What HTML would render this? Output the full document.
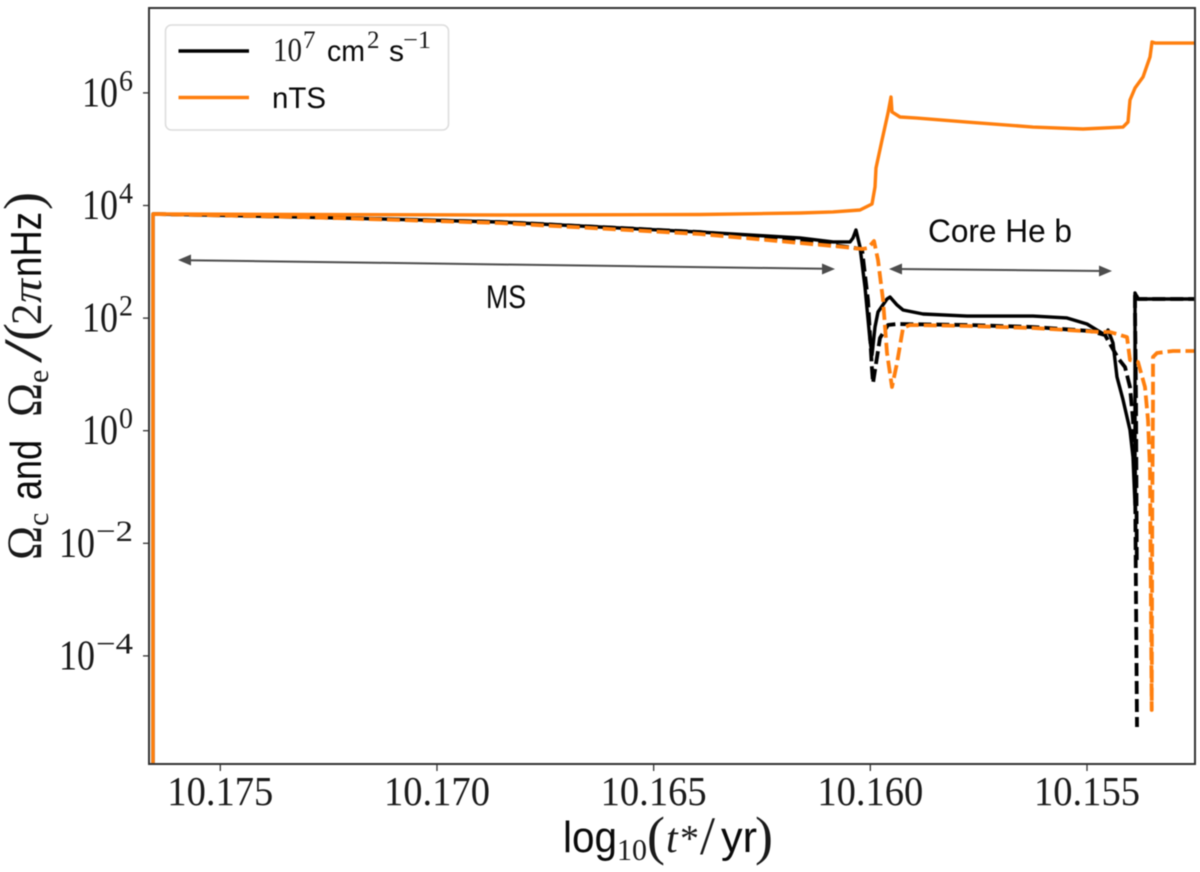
<!DOCTYPE html>
<html lang="en">
<head>
<meta charset="utf-8">
<title>Core and envelope rotation chart</title>
<style>
html,body{margin:0;padding:0;background:#fff;width:1200px;height:872px;overflow:hidden}
svg{display:block;filter:blur(0.45px)}
.serif{font-family:"Liberation Serif",serif;fill:#1a1a1a}
.sans{font-family:"Liberation Sans",sans-serif;fill:#0a0a0a}
</style>
</head>
<body>
<svg id="chart" width="1200" height="872" viewBox="0 0 1200 872" xmlns="http://www.w3.org/2000/svg">
  <defs><clipPath id="plot-clip"><rect x="150" y="9" width="1044" height="754"/></clipPath></defs>
  <rect x="0" y="0" width="1200" height="872" fill="#fff"/>
  <g id="series" clip-path="url(#plot-clip)" fill="none" stroke-linejoin="round"></g>
  <rect x="149" y="8" width="1046" height="756" fill="none" stroke="#333" stroke-width="2"/>
  <g id="axes"></g>

  <g>
    <line x1="186" y1="260.2" x2="825" y2="268.8" stroke="#4d4d4d" stroke-width="2"/>
    <polygon points="178,260 191,254.5 191,265.5" fill="#4d4d4d"/>
    <polygon points="835,269 822,263.5 822,274.5" fill="#4d4d4d"/>
  </g>
  <text class="sans" x="486" y="308" font-size="32" textLength="40" lengthAdjust="spacingAndGlyphs">MS</text>
  <g>
    <line x1="897" y1="269" x2="1103" y2="271" stroke="#4d4d4d" stroke-width="2"/>
    <polygon points="889,269 902,263.5 902,274.5" fill="#4d4d4d"/>
    <polygon points="1112,271 1099,265.5 1099,276.5" fill="#4d4d4d"/>
  </g>
  <text class="sans" x="928" y="242" font-size="32" textLength="144" lengthAdjust="spacingAndGlyphs">Core He b</text>

  <g>
    <rect x="165.5" y="25" width="283" height="105" rx="6" fill="#fff" stroke="#dcdcdc" stroke-width="1.5"/>
    <line x1="178.5" y1="51" x2="249" y2="51" stroke="#000" stroke-width="3.5"/>
    <line x1="178.5" y1="97.5" x2="249" y2="97.5" stroke="#ff7f0e" stroke-width="3.5"/>
    <g>
      <text class="serif" x="273" y="61" font-size="34" textLength="29" lengthAdjust="spacingAndGlyphs">10</text>
      <text class="serif" x="303" y="48" font-size="25">7</text>
      <text class="sans" x="327" y="61" font-size="30" textLength="38" lengthAdjust="spacingAndGlyphs">cm</text>
      <text class="serif" x="367" y="48" font-size="25">2</text>
      <text class="sans" x="389" y="61" font-size="30">s</text>
      <text class="serif" x="403" y="48" font-size="25" textLength="28" lengthAdjust="spacingAndGlyphs">−1</text>
    </g>
    <text class="sans" x="272" y="108" font-size="30" textLength="54" lengthAdjust="spacingAndGlyphs">nTS</text>
  </g>

  <g>
    <text class="sans" x="563" y="852" font-size="44" textLength="54" lengthAdjust="spacingAndGlyphs">log</text>
    <text class="serif" x="617" y="860" font-size="31" textLength="30" lengthAdjust="spacingAndGlyphs">10</text>
    <text class="serif" x="647" y="854" font-size="54">(</text>
    <text class="serif" x="666" y="852" font-size="42" font-style="italic">t</text>
    <text class="serif" x="680" y="851" font-size="38">*</text>
    <text class="serif" x="700" y="854" font-size="54">/</text>
    <text class="sans" x="721" y="852" font-size="44" textLength="36" lengthAdjust="spacingAndGlyphs">yr</text>
    <text class="serif" x="755" y="854" font-size="54">)</text>
  </g>

  <g transform="translate(41,560) rotate(-90)">
    <text class="serif" x="0" y="0" font-size="50" textLength="34" lengthAdjust="spacingAndGlyphs">Ω</text>
    <text class="serif" x="34" y="7" font-size="30">c</text>
    <text class="sans" x="60" y="0" font-size="44" textLength="60" lengthAdjust="spacingAndGlyphs">and</text>
    <text class="serif" x="143" y="0" font-size="50" textLength="34" lengthAdjust="spacingAndGlyphs">Ω</text>
    <text class="serif" x="177" y="7" font-size="30">e</text>
    <text class="serif" x="197" y="0" font-size="54" textLength="24" lengthAdjust="spacingAndGlyphs">/</text>
    <text class="serif" x="219" y="0" font-size="54">(</text>
    <text class="serif" x="235" y="0" font-size="43">2</text>
    <text class="serif" x="257" y="0" font-size="42" font-style="italic" textLength="24" lengthAdjust="spacingAndGlyphs">π</text>
    <text class="sans" x="283" y="0" font-size="44" textLength="65" lengthAdjust="spacingAndGlyphs">nHz</text>
    <text class="serif" x="350" y="0" font-size="54">)</text>
  </g>
</svg>
<script>
// ---- chart data ----
const xTickValues = [10.175, 10.170, 10.165, 10.160, 10.155];
const xTickLabels = ["10.175", "10.170", "10.165", "10.160", "10.155"];
const yTickExponents = [6, 4, 2, 0, -2, -4];

// time and log10(frequency) per series; null marks a break in the line
const timeDiffusionCore = [10.176553,10.176553,10.173161,10.168546,10.16393,10.161623,10.160861,10.160469,10.1604,10.160331,10.160238,10.160123,10.160008,10.159961,10.159892,10.159823,10.159615,10.159546,10.159384,10.159246,10.158784,10.157769,10.156246,10.155462,10.155,10.154585,10.154515,10.1544,10.154308,10.154169,10.154008,10.153939,10.153892,10.153892,10.153823,10.152508];
const logDiffusionCore = [-7,3.849,3.796,3.707,3.529,3.423,3.352,3.352,3.423,3.565,3.263,2.552,1.611,1.345,1.842,2.108,2.339,2.375,2.233,2.144,2.073,2.037,2.037,2.002,1.895,1.7,1.789,1.558,0.954,0.55,0.012,-0.467,-1.32,2.446,2.339,2.339];

const timeDiffusionEnvelope = [10.176553,10.173161,10.168546,10.16393,10.161623,10.160861,10.160192,10.160123,10.160054,10.159961,10.159938,10.159777,10.159592,10.159384,10.157769,10.156246,10.154931,10.154585,10.154285,10.154123,10.154008,10.153939,10.153892,10.153846,null,10.153851,10.153869,10.153892,10.153892,10.153823,10.152508];
const logDiffusionEnvelope = [3.849,3.796,3.707,3.529,3.369,3.298,3.227,2.766,2.322,1.08,0.847,1.647,1.878,1.895,1.878,1.842,1.771,1.7,1.291,1.131,0.776,0.19,-0.698,-5.263,null,-2.297,0.55,2.144,2.446,2.339,2.339];

const timeNtsCore = [10.176553,10.176553,10.176391,10.173161,10.168546,10.16393,10.161623,10.160861,10.160238,10.159961,10.159892,10.159869,10.15973,10.159592,10.159523,10.1595,10.159315,10.158923,10.157769,10.156246,10.155092,10.154169,10.154054,10.154008,10.153892,10.153708,10.153546,10.1535,10.153431,10.152508];
const logNtsCore = [-7,3.849,3.849,3.84,3.831,3.84,3.867,3.885,3.92,4.027,4.329,4.666,5.163,5.643,5.927,5.661,5.572,5.554,5.483,5.394,5.359,5.394,5.483,5.874,6.087,6.282,6.638,6.904,6.886,6.886];

const timeNtsEnvelope = [10.176553,10.173161,10.168546,10.16393,10.161623,10.160861,10.160192,10.160054,10.159915,10.159823,10.159707,10.159615,10.1595,10.159384,10.159246,10.159085,10.157769,10.156246,10.1547,10.154469,10.154077,10.154008,10.153823,10.153662,10.153592,10.153546,10.153507,10.153493,10.153477,10.153477,10.153385,10.153016,10.152508];
const logNtsEnvelope = [3.849,3.796,3.689,3.494,3.334,3.281,3.227,3.245,3.369,3.032,2.322,1.38,0.776,1.202,1.824,1.878,1.86,1.824,1.753,1.753,1.664,1.256,1.22,0.776,0.19,-0.698,-4.961,-1.231,0.492,1.309,1.38,1.416,1.416];

// ---- axis functions ----
const NS = "http://www.w3.org/2000/svg";
function xScale(t) { return 220.3 + (10.175 - t) * 43335; }
function yScale(logv) { return 205.5 - (logv - 4) * 56.3; }

function pathFrom(times, logs) {
  let d = "";
  let pen = "M";
  for (let i = 0; i < times.length; i++) {
    if (times[i] === null) { pen = "M"; continue; }
    d += pen + xScale(times[i]).toFixed(2) + " " + yScale(logs[i]).toFixed(2);
    pen = "L";
  }
  return d;
}

const seriesGroup = document.getElementById("series");
const axesGroup = document.getElementById("axes");

// ---- series ----
const curveDiffCore = document.createElementNS(NS, "path");


curveDiffCore.setAttribute("d", pathFrom(timeDiffusionCore, logDiffusionCore));
curveDiffCore.setAttribute("stroke", "#000");
curveDiffCore.setAttribute("stroke-width", "3.4");
seriesGroup.appendChild(curveDiffCore);

const curveDiffEnv = document.createElementNS(NS, "path");


curveDiffEnv.setAttribute("d", pathFrom(timeDiffusionEnvelope, logDiffusionEnvelope));
curveDiffEnv.setAttribute("stroke", "#000");
curveDiffEnv.setAttribute("stroke-width", "3.8");
curveDiffEnv.setAttribute("stroke-dasharray", "13 5");
seriesGroup.appendChild(curveDiffEnv);

const curveNtsCore = document.createElementNS(NS, "path");


curveNtsCore.setAttribute("d", pathFrom(timeNtsCore, logNtsCore));
curveNtsCore.setAttribute("stroke", "#ff7f0e");
curveNtsCore.setAttribute("stroke-width", "3.4");
seriesGroup.appendChild(curveNtsCore);

const curveNtsEnv = document.createElementNS(NS, "path");


curveNtsEnv.setAttribute("d", pathFrom(timeNtsEnvelope, logNtsEnvelope));
curveNtsEnv.setAttribute("stroke", "#ff7f0e");
curveNtsEnv.setAttribute("stroke-width", "3.8");
curveNtsEnv.setAttribute("stroke-dasharray", "13 5");
seriesGroup.appendChild(curveNtsEnv);

// ---- x ticks ----
xTickValues.forEach(function (value, i) {
  const px = xScale(value);
  const tick = document.createElementNS(NS, "line");
  
  
  tick.setAttribute("x1", px);
  tick.setAttribute("x2", px);
  tick.setAttribute("y1", 764);
  tick.setAttribute("y2", 771);
  tick.setAttribute("stroke", "#333");
  tick.setAttribute("stroke-width", "1.3");
  axesGroup.appendChild(tick);

  const label = document.createElementNS(NS, "text");
  
  
  label.setAttribute("class", "serif");
  label.setAttribute("x", px - 53);
  label.setAttribute("y", 805);
  label.setAttribute("font-size", "41");
  label.setAttribute("textLength", "106");
  label.setAttribute("lengthAdjust", "spacingAndGlyphs");
  label.textContent = xTickLabels[i];
  axesGroup.appendChild(label);
});

// ---- y ticks ----
yTickExponents.forEach(function (exponent) {
  const py = yScale(exponent);
  const tick = document.createElementNS(NS, "line");
  
  
  tick.setAttribute("x1", 143);
  tick.setAttribute("x2", 149);
  tick.setAttribute("y1", py);
  tick.setAttribute("y2", py);
  tick.setAttribute("stroke", "#333");
  tick.setAttribute("stroke-width", "1.3");
  axesGroup.appendChild(tick);

  const negative = exponent < 0;
  const base = document.createElementNS(NS, "text");
  
  
  base.setAttribute("class", "serif");
  base.setAttribute("x", negative ? 59 : 82);
  base.setAttribute("y", py + 13.5);
  base.setAttribute("font-size", "42");
  base.setAttribute("textLength", "36");
  base.setAttribute("lengthAdjust", "spacingAndGlyphs");
  base.textContent = "10";
  axesGroup.appendChild(base);

  const power = document.createElementNS(NS, "text");
  
  
  power.setAttribute("class", "serif");
  power.setAttribute("x", negative ? 96 : 119);
  power.setAttribute("y", py - 2.5);
  power.setAttribute("font-size", "30");
  power.setAttribute("textLength", negative ? "37" : "14");
  power.setAttribute("lengthAdjust", "spacingAndGlyphs");
  power.textContent = negative ? "−" + Math.abs(exponent) : String(exponent);
  axesGroup.appendChild(power);
});
</script>
</body>
</html>
